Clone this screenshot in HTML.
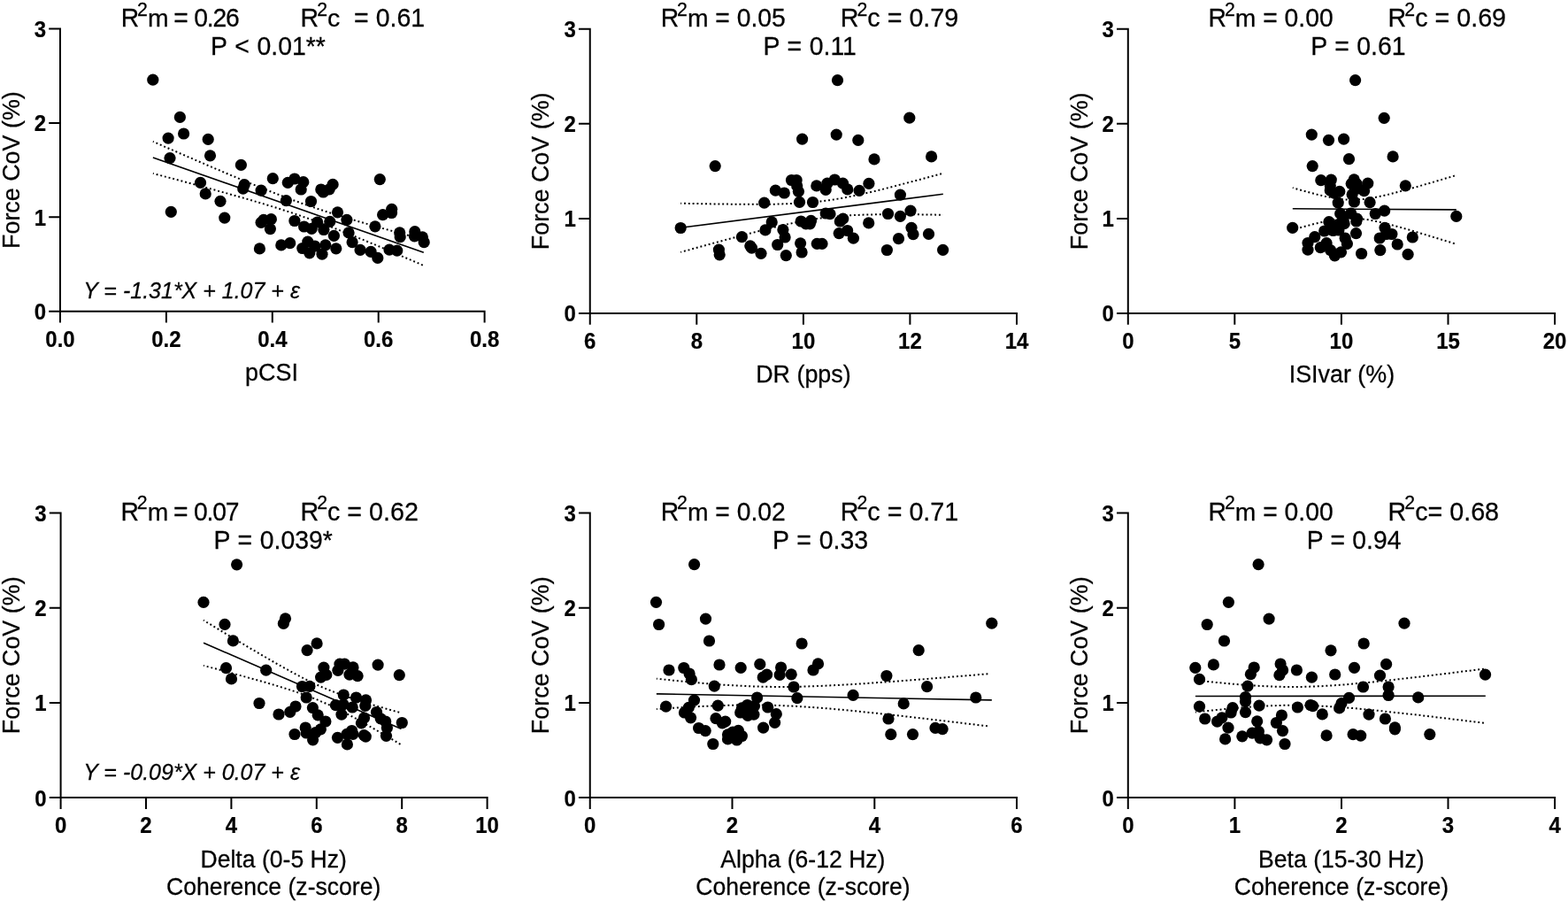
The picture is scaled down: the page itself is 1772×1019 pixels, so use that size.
<!DOCTYPE html>
<html lang="en"><head><meta charset="utf-8"><title>Force CoV regressions</title>
<style>html,body{margin:0;padding:0;background:#fff;}body{width:1772px;height:1019px;overflow:hidden;}svg{display:block;}text{font-family:"Liberation Sans", sans-serif;fill:#000;white-space:pre;}.ax{stroke:#000;stroke-width:2;fill:none;stroke-linecap:butt;}.ln{stroke:#000;stroke-width:1.6;fill:none;stroke-linecap:butt;}.ci{stroke:#000;stroke-width:2;fill:none;stroke-dasharray:1.9 2.9;stroke-dashoffset:0.95;stroke-linecap:butt;}.tl{font-size:24px;font-weight:bold;stroke:#000;stroke-width:0.2px;}.lb{stroke:#000;stroke-width:0.25px;}.tt{stroke:#000;stroke-width:0.25px;}.eq{font-size:25px;font-style:italic;stroke:#000;stroke-width:0.25px;}</style></head><body>
<svg width="1772" height="1019" viewBox="0 0 1772 1019">
<rect x="0" y="0" width="1772" height="1019" fill="#ffffff"/>
<g id="panel1">
<path class="ax" d="M68 31.5V364.5M55.2 351.7H548.6M55.2 245.3H68M55.2 138.9H68M55.2 32.5H68M187.9 351.7V364.5M307.8 351.7V364.5M427.7 351.7V364.5M547.6 351.7V364.5"/>
<text class="tl" transform="translate(52 361.1) scale(1 1.05)" text-anchor="end">0</text>
<text class="tl" transform="translate(52 254.7) scale(1 1.05)" text-anchor="end">1</text>
<text class="tl" transform="translate(52 148.3) scale(1 1.05)" text-anchor="end">2</text>
<text class="tl" transform="translate(52 41.9) scale(1 1.05)" text-anchor="end">3</text>
<text class="tl" transform="translate(68 391.7) scale(1 1.05)" text-anchor="middle">0.0</text>
<text class="tl" transform="translate(187.9 391.7) scale(1 1.05)" text-anchor="middle">0.2</text>
<text class="tl" transform="translate(307.8 391.7) scale(1 1.05)" text-anchor="middle">0.4</text>
<text class="tl" transform="translate(427.7 391.7) scale(1 1.05)" text-anchor="middle">0.6</text>
<text class="tl" transform="translate(547.6 391.7) scale(1 1.05)" text-anchor="middle">0.8</text>
<text class="lb" font-size="26.9" transform="translate(21.7 192.1) rotate(-90) scale(1 1.035)" text-anchor="middle">Force CoV (%)</text>
<text class="lb" font-size="26.9" transform="translate(307 429.8) scale(1 1.035)" text-anchor="middle">pCSI</text>
<text class="tt" font-size="28.3" transform="translate(136.64 30) scale(1 1.035)" xml:space="preserve">R</text>
<text class="tt" font-size="21.3" transform="translate(155.07 17.7) scale(1 1.035)" xml:space="preserve">2</text>
<text class="tt" font-size="28.3" x="166.91" y="30" xml:space="preserve">m</text>
<text class="tt" font-size="28.3" transform="translate(196.25 30) scale(1 1.035)" xml:space="preserve">=</text>
<text class="tt" font-size="28.3" transform="translate(219.25 30) scale(1 1.035)" letter-spacing="-1.2" xml:space="preserve">0.26</text>
<text class="tt" font-size="28.5" transform="translate(339.62 30) scale(1 1.035)" xml:space="preserve">R</text>
<text class="tt" font-size="21.3" transform="translate(358.2 17.7) scale(1 1.035)" xml:space="preserve">2</text>
<text class="tt" font-size="28.5" x="370.04" y="30" xml:space="preserve">c</text>
<text class="tt" font-size="28.5" transform="translate(384.29 30) scale(1 1.035)" xml:space="preserve">  = 0.61</text>
<text class="tt" font-size="28.4" transform="translate(237.93 61.7) scale(1 1.035)" word-spacing="0.9" xml:space="preserve">P &lt; 0.01**</text>
<text class="eq" transform="translate(94.2 336.6) scale(1 1.035)" xml:space="preserve">Y = -1.31*X + 1.07 + ε</text>
<g fill="#000">
<circle cx="172.8" cy="90.2" r="6.6"/><circle cx="203.4" cy="132.4" r="6.6"/><circle cx="207.6" cy="151" r="6.6"/><circle cx="190.1" cy="156.1" r="6.6"/><circle cx="235.2" cy="157.4" r="6.6"/><circle cx="192" cy="178.6" r="6.6"/><circle cx="237.5" cy="175.8" r="6.6"/><circle cx="272.4" cy="186.4" r="6.6"/><circle cx="226.5" cy="206.4" r="6.6"/><circle cx="232.2" cy="218.9" r="6.6"/><circle cx="249" cy="227.3" r="6.6"/><circle cx="193.3" cy="239.3" r="6.6"/><circle cx="253.8" cy="246.1" r="6.6"/><circle cx="276.2" cy="208.7" r="6.6"/><circle cx="274.7" cy="213.1" r="6.6"/><circle cx="308.3" cy="201.7" r="6.6"/><circle cx="295.1" cy="215.1" r="6.6"/><circle cx="325.3" cy="206.3" r="6.6"/><circle cx="332.9" cy="202" r="6.6"/><circle cx="342.8" cy="205.7" r="6.6"/><circle cx="340.2" cy="214" r="6.6"/><circle cx="323.4" cy="226.6" r="6.6"/><circle cx="351.5" cy="227.5" r="6.6"/><circle cx="362.8" cy="214" r="6.6"/><circle cx="365.3" cy="217" r="6.6"/><circle cx="372.2" cy="213.8" r="6.6"/><circle cx="376.1" cy="208.4" r="6.6"/><circle cx="381.5" cy="239.8" r="6.6"/><circle cx="297.9" cy="248.3" r="6.6"/><circle cx="295.1" cy="251.3" r="6.6"/><circle cx="306.4" cy="247.7" r="6.6"/><circle cx="305.4" cy="258.6" r="6.6"/><circle cx="332.9" cy="249.5" r="6.6"/><circle cx="343.6" cy="256" r="6.6"/><circle cx="352.2" cy="258.4" r="6.6"/><circle cx="358.7" cy="251" r="6.6"/><circle cx="365.9" cy="259.5" r="6.6"/><circle cx="372.8" cy="250.3" r="6.6"/><circle cx="377.4" cy="266.3" r="6.6"/><circle cx="293.4" cy="280.9" r="6.6"/><circle cx="317.8" cy="276.9" r="6.6"/><circle cx="327.7" cy="274.7" r="6.6"/><circle cx="341.8" cy="280.5" r="6.6"/><circle cx="347.8" cy="273.1" r="6.6"/><circle cx="349.8" cy="285.8" r="6.6"/><circle cx="355.9" cy="278.2" r="6.6"/><circle cx="364" cy="287.2" r="6.6"/><circle cx="367.8" cy="276.8" r="6.6"/><circle cx="379.8" cy="280.8" r="6.6"/><circle cx="429.3" cy="202.6" r="6.6"/><circle cx="391.9" cy="248.3" r="6.6"/><circle cx="394.1" cy="262.9" r="6.6"/><circle cx="398.1" cy="273.7" r="6.6"/><circle cx="423.9" cy="255.8" r="6.6"/><circle cx="432.6" cy="242.7" r="6.6"/><circle cx="442.7" cy="236.3" r="6.6"/><circle cx="442.5" cy="240.5" r="6.6"/><circle cx="451.7" cy="262.9" r="6.6"/><circle cx="452.2" cy="267.7" r="6.6"/><circle cx="468.8" cy="261.7" r="6.6"/><circle cx="468.4" cy="266.8" r="6.6"/><circle cx="477.4" cy="267.8" r="6.6"/><circle cx="479.2" cy="273.7" r="6.6"/><circle cx="440" cy="282.1" r="6.6"/><circle cx="448.7" cy="283.2" r="6.6"/><circle cx="407.1" cy="282.4" r="6.6"/><circle cx="419.1" cy="284.4" r="6.6"/><circle cx="426.8" cy="291.4" r="6.6"/>
</g>
<path class="ln" d="M172.9 177.9L478.8 285.3"/>
<path class="ci" d="M172.9 159.9L178 162.1L183.1 164.4L188.2 166.6L193.3 168.8L198.4 171L203.5 173.3L208.6 175.5L213.7 177.7L218.8 179.9L223.9 182.1L229 184.3L234.1 186.5L239.2 188.7L244.3 190.9L249.4 193L254.5 195.2L259.6 197.4L264.7 199.5L269.8 201.7L274.9 203.8L280 205.9L285.1 208L290.2 210.1L295.3 212.1L300.4 214.2L305.5 216.2L310.6 218.2L315.7 220.2L320.8 222.2L325.9 224.1L330.9 226L336 227.8L341.1 229.7L346.2 231.5L351.3 233.2L356.4 235L361.5 236.7L366.6 238.3L371.7 240L376.8 241.6L381.9 243.2L387 244.7L392.1 246.3L397.2 247.8L402.3 249.3L407.4 250.8L412.5 252.3L417.6 253.7L422.7 255.2L427.8 256.6L432.9 258.1L438 259.5L443.1 260.9L448.2 262.3L453.3 263.7L458.4 265.1L463.5 266.4L468.6 267.8L473.7 269.2L478.8 270.6"/>
<path class="ci" d="M172.9 195.9L178 197.3L183.1 198.6L188.2 200L193.3 201.3L198.4 202.7L203.5 204L208.6 205.4L213.7 206.8L218.8 208.1L223.9 209.5L229 210.9L234.1 212.3L239.2 213.7L244.3 215.1L249.4 216.5L254.5 217.9L259.6 219.3L264.7 220.7L269.8 222.2L274.9 223.6L280 225.1L285.1 226.6L290.2 228.1L295.3 229.6L300.4 231.1L305.5 232.7L310.6 234.2L315.7 235.8L320.8 237.5L325.9 239.1L330.9 240.8L336 242.5L341.1 244.3L346.2 246.1L351.3 247.9L356.4 249.7L361.5 251.6L366.6 253.5L371.7 255.4L376.8 257.4L381.9 259.4L387 261.4L392.1 263.5L397.2 265.5L402.3 267.6L407.4 269.7L412.5 271.8L417.6 273.9L422.7 276L427.8 278.2L432.9 280.3L438 282.5L443.1 284.7L448.2 286.8L453.3 289L458.4 291.2L463.5 293.4L468.6 295.6L473.7 297.8L478.8 300"/>
</g>
<g id="panel2">
<path class="ax" d="M666.75 31.7V366.8M653.95 354H1150M653.95 246.9H666.75M653.95 139.8H666.75M653.95 32.7H666.75M787.3 354V366.8M907.9 354V366.8M1028.4 354V366.8M1149 354V366.8"/>
<text class="tl" transform="translate(650.75 363.4) scale(1 1.05)" text-anchor="end">0</text>
<text class="tl" transform="translate(650.75 256.3) scale(1 1.05)" text-anchor="end">1</text>
<text class="tl" transform="translate(650.75 149.2) scale(1 1.05)" text-anchor="end">2</text>
<text class="tl" transform="translate(650.75 42.1) scale(1 1.05)" text-anchor="end">3</text>
<text class="tl" transform="translate(666.75 394) scale(1 1.05)" text-anchor="middle">6</text>
<text class="tl" transform="translate(787.3 394) scale(1 1.05)" text-anchor="middle">8</text>
<text class="tl" transform="translate(907.9 394) scale(1 1.05)" text-anchor="middle">10</text>
<text class="tl" transform="translate(1028.4 394) scale(1 1.05)" text-anchor="middle">12</text>
<text class="tl" transform="translate(1149 394) scale(1 1.05)" text-anchor="middle">14</text>
<text class="lb" font-size="26.9" transform="translate(620.45 193.35) rotate(-90) scale(1 1.035)" text-anchor="middle">Force CoV (%)</text>
<text class="lb" font-size="26.9" transform="translate(907.9 432.3) scale(1 1.035)" text-anchor="middle">DR (pps)</text>
<text class="tt" font-size="28.3" transform="translate(746.64 30) scale(1 1.035)" xml:space="preserve">R</text>
<text class="tt" font-size="21.3" transform="translate(765.07 17.7) scale(1 1.035)" xml:space="preserve">2</text>
<text class="tt" font-size="28.3" x="776.91" y="30" xml:space="preserve">m</text>
<text class="tt" font-size="28.3" transform="translate(800.49 30) scale(1 1.035)" xml:space="preserve"> = 0.05</text>
<text class="tt" font-size="28.7" transform="translate(949.8 30) scale(1 1.035)" xml:space="preserve">R</text>
<text class="tt" font-size="21.3" transform="translate(968.53 17.7) scale(1 1.035)" xml:space="preserve">2</text>
<text class="tt" font-size="28.7" x="980.37" y="30" xml:space="preserve">c</text>
<text class="tt" font-size="28.7" transform="translate(994.72 30) scale(1 1.035)" xml:space="preserve"> = 0.79</text>
<text class="tt" font-size="28.4" transform="translate(862.53 62.1) scale(1 1.035)" word-spacing="0.7" xml:space="preserve">P = 0.11</text>
<g fill="#000">
<circle cx="946.5" cy="90.7" r="6.6"/><circle cx="1027.8" cy="133.2" r="6.6"/><circle cx="945.2" cy="152.1" r="6.6"/><circle cx="906.6" cy="157.1" r="6.6"/><circle cx="969.8" cy="158.4" r="6.6"/><circle cx="988" cy="179.9" r="6.6"/><circle cx="1052.6" cy="176.9" r="6.6"/><circle cx="808.2" cy="187.6" r="6.6"/><circle cx="769.2" cy="257.5" r="6.6"/><circle cx="863.7" cy="229.1" r="6.6"/><circle cx="876.4" cy="215.2" r="6.6"/><circle cx="886.3" cy="218" r="6.6"/><circle cx="894.5" cy="203.5" r="6.6"/><circle cx="900.1" cy="203.5" r="6.6"/><circle cx="900.7" cy="209.9" r="6.6"/><circle cx="902.4" cy="216.3" r="6.6"/><circle cx="903.5" cy="228.3" r="6.6"/><circle cx="918.5" cy="228.5" r="6.6"/><circle cx="922.8" cy="209.9" r="6.6"/><circle cx="933.2" cy="214.4" r="6.6"/><circle cx="934.9" cy="207.1" r="6.6"/><circle cx="943.3" cy="203" r="6.6"/><circle cx="952.5" cy="207.1" r="6.6"/><circle cx="957.8" cy="213.9" r="6.6"/><circle cx="971.1" cy="215.3" r="6.6"/><circle cx="981.9" cy="207.4" r="6.6"/><circle cx="1017.4" cy="220.1" r="6.6"/><circle cx="872.2" cy="250.9" r="6.6"/><circle cx="864.9" cy="259.9" r="6.6"/><circle cx="884.9" cy="259.6" r="6.6"/><circle cx="887.1" cy="268" r="6.6"/><circle cx="878.7" cy="276.5" r="6.6"/><circle cx="838.4" cy="267.7" r="6.6"/><circle cx="847.8" cy="277.8" r="6.6"/><circle cx="849.5" cy="280.2" r="6.6"/><circle cx="860" cy="286.3" r="6.6"/><circle cx="812.4" cy="282.1" r="6.6"/><circle cx="813.2" cy="287.8" r="6.6"/><circle cx="888.3" cy="288.6" r="6.6"/><circle cx="904.6" cy="274.8" r="6.6"/><circle cx="906.1" cy="285" r="6.6"/><circle cx="923.3" cy="275.3" r="6.6"/><circle cx="929" cy="275.4" r="6.6"/><circle cx="905.2" cy="250" r="6.6"/><circle cx="910.8" cy="252.8" r="6.6"/><circle cx="916.5" cy="249.4" r="6.6"/><circle cx="915.3" cy="252.8" r="6.6"/><circle cx="933.2" cy="241" r="6.6"/><circle cx="938" cy="241.7" r="6.6"/><circle cx="952.7" cy="247.2" r="6.6"/><circle cx="949.3" cy="250" r="6.6"/><circle cx="948.2" cy="263.6" r="6.6"/><circle cx="957.6" cy="260.5" r="6.6"/><circle cx="964.4" cy="269.2" r="6.6"/><circle cx="981.7" cy="251.9" r="6.6"/><circle cx="1003.5" cy="241.5" r="6.6"/><circle cx="1017.4" cy="244.3" r="6.6"/><circle cx="1029" cy="238.1" r="6.6"/><circle cx="1030" cy="257.3" r="6.6"/><circle cx="1032" cy="264.7" r="6.6"/><circle cx="1049.5" cy="264.4" r="6.6"/><circle cx="1015.5" cy="269.7" r="6.6"/><circle cx="1002.4" cy="282.5" r="6.6"/><circle cx="1065.6" cy="282.3" r="6.6"/>
</g>
<path class="ln" d="M769.2 257.3L1065.8 219.2"/>
<path class="ci" d="M769.2 229.7L774.1 229.8L779.1 229.9L784 230L789 230.1L793.9 230.2L798.9 230.3L803.8 230.4L808.7 230.4L813.7 230.5L818.6 230.6L823.6 230.6L828.5 230.7L833.5 230.7L838.4 230.8L843.4 230.8L848.3 230.8L853.2 230.8L858.2 230.8L863.1 230.8L868.1 230.7L873 230.7L878 230.6L882.9 230.4L887.8 230.3L892.8 230.1L897.7 229.9L902.7 229.6L907.6 229.3L912.6 228.9L917.5 228.5L922.4 228L927.4 227.5L932.3 226.8L937.3 226.2L942.2 225.4L947.2 224.6L952.1 223.7L957 222.8L962 221.8L966.9 220.8L971.9 219.7L976.8 218.6L981.8 217.5L986.7 216.4L991.6 215.2L996.6 214L1001.5 212.7L1006.5 211.5L1011.4 210.2L1016.4 208.9L1021.3 207.6L1026.3 206.3L1031.2 205L1036.1 203.7L1041.1 202.4L1046 201.1L1051 199.7L1055.9 198.4L1060.9 197L1065.8 195.7"/>
<path class="ci" d="M769.2 284.9L774.1 283.5L779.1 282.2L784 280.8L789 279.4L793.9 278.1L798.9 276.7L803.8 275.3L808.7 274L813.7 272.7L818.6 271.3L823.6 270L828.5 268.7L833.5 267.3L838.4 266L843.4 264.7L848.3 263.5L853.2 262.2L858.2 260.9L863.1 259.7L868.1 258.5L873 257.3L878 256.1L882.9 254.9L887.8 253.8L892.8 252.7L897.7 251.7L902.7 250.7L907.6 249.7L912.6 248.8L917.5 248L922.4 247.2L927.4 246.5L932.3 245.8L937.3 245.3L942.2 244.7L947.2 244.3L952.1 243.9L957 243.5L962 243.2L966.9 243L971.9 242.8L976.8 242.6L981.8 242.5L986.7 242.4L991.6 242.3L996.6 242.2L1001.5 242.2L1006.5 242.2L1011.4 242.2L1016.4 242.2L1021.3 242.2L1026.3 242.2L1031.2 242.3L1036.1 242.3L1041.1 242.4L1046 242.4L1051 242.5L1055.9 242.6L1060.9 242.7L1065.8 242.7"/>
</g>
<g id="panel3">
<path class="ax" d="M1274.8 31.7V366.8M1262 354H1758.1M1262 246.9H1274.8M1262 139.8H1274.8M1262 32.7H1274.8M1395.3 354V366.8M1515.9 354V366.8M1636.5 354V366.8M1757.1 354V366.8"/>
<text class="tl" transform="translate(1258.8 363.4) scale(1 1.05)" text-anchor="end">0</text>
<text class="tl" transform="translate(1258.8 256.3) scale(1 1.05)" text-anchor="end">1</text>
<text class="tl" transform="translate(1258.8 149.2) scale(1 1.05)" text-anchor="end">2</text>
<text class="tl" transform="translate(1258.8 42.1) scale(1 1.05)" text-anchor="end">3</text>
<text class="tl" transform="translate(1274.8 394) scale(1 1.05)" text-anchor="middle">0</text>
<text class="tl" transform="translate(1395.3 394) scale(1 1.05)" text-anchor="middle">5</text>
<text class="tl" transform="translate(1515.9 394) scale(1 1.05)" text-anchor="middle">10</text>
<text class="tl" transform="translate(1636.5 394) scale(1 1.05)" text-anchor="middle">15</text>
<text class="tl" transform="translate(1757.1 394) scale(1 1.05)" text-anchor="middle">20</text>
<text class="lb" font-size="26.9" transform="translate(1228.5 193.35) rotate(-90) scale(1 1.035)" text-anchor="middle">Force CoV (%)</text>
<text class="lb" font-size="26.9" transform="translate(1516.4 432.3) scale(1 1.035)" text-anchor="middle">ISIvar (%)</text>
<text class="tt" font-size="28.3" transform="translate(1365.54 30) scale(1 1.035)" xml:space="preserve">R</text>
<text class="tt" font-size="21.3" transform="translate(1383.97 17.7) scale(1 1.035)" xml:space="preserve">2</text>
<text class="tt" font-size="28.3" x="1395.81" y="30" xml:space="preserve">m</text>
<text class="tt" font-size="28.3" transform="translate(1419.39 30) scale(1 1.035)" xml:space="preserve"> = 0.00</text>
<text class="tt" font-size="28.7" transform="translate(1568.6 30) scale(1 1.035)" xml:space="preserve">R</text>
<text class="tt" font-size="21.3" transform="translate(1587.33 17.7) scale(1 1.035)" xml:space="preserve">2</text>
<text class="tt" font-size="28.7" x="1599.17" y="30" xml:space="preserve">c</text>
<text class="tt" font-size="28.7" transform="translate(1613.52 30) scale(1 1.035)" xml:space="preserve"> = 0.69</text>
<text class="tt" font-size="28.4" transform="translate(1481.13 62.1) scale(1 1.035)" word-spacing="0.7" xml:space="preserve">P = 0.61</text>
<g fill="#000">
<circle cx="1531.6" cy="90.6" r="6.6"/><circle cx="1564.2" cy="133.3" r="6.6"/><circle cx="1482.3" cy="152.1" r="6.6"/><circle cx="1501.5" cy="158.3" r="6.6"/><circle cx="1518.6" cy="157.1" r="6.6"/><circle cx="1524.5" cy="179.7" r="6.6"/><circle cx="1574.1" cy="176.9" r="6.6"/><circle cx="1483.2" cy="187.6" r="6.6"/><circle cx="1492.8" cy="203.7" r="6.6"/><circle cx="1504.3" cy="203.1" r="6.6"/><circle cx="1530.2" cy="202.9" r="6.6"/><circle cx="1545.8" cy="207.1" r="6.6"/><circle cx="1588.3" cy="209.8" r="6.6"/><circle cx="1503.3" cy="209.8" r="6.6"/><circle cx="1503.3" cy="215.2" r="6.6"/><circle cx="1507.8" cy="218" r="6.6"/><circle cx="1513.8" cy="216.4" r="6.6"/><circle cx="1512.2" cy="229.1" r="6.6"/><circle cx="1527.2" cy="207.6" r="6.6"/><circle cx="1533.1" cy="207.6" r="6.6"/><circle cx="1534.9" cy="213" r="6.6"/><circle cx="1541.6" cy="215.7" r="6.6"/><circle cx="1528.1" cy="219.8" r="6.6"/><circle cx="1530.4" cy="228" r="6.6"/><circle cx="1548.1" cy="228.7" r="6.6"/><circle cx="1564.6" cy="238.2" r="6.6"/><circle cx="1554.3" cy="241.5" r="6.6"/><circle cx="1460.7" cy="257.4" r="6.6"/><circle cx="1514.7" cy="241.4" r="6.6"/><circle cx="1526.7" cy="241" r="6.6"/><circle cx="1533.5" cy="247.1" r="6.6"/><circle cx="1532.8" cy="250" r="6.6"/><circle cx="1501.9" cy="250.7" r="6.6"/><circle cx="1518.1" cy="248.1" r="6.6"/><circle cx="1519.1" cy="252.7" r="6.6"/><circle cx="1512.4" cy="253.7" r="6.6"/><circle cx="1506.6" cy="256.4" r="6.6"/><circle cx="1512.9" cy="260" r="6.6"/><circle cx="1506.6" cy="260.5" r="6.6"/><circle cx="1496.7" cy="261" r="6.6"/><circle cx="1532.5" cy="263.6" r="6.6"/><circle cx="1485.8" cy="267.6" r="6.6"/><circle cx="1478" cy="274.5" r="6.6"/><circle cx="1499.1" cy="274.7" r="6.6"/><circle cx="1520.2" cy="269.2" r="6.6"/><circle cx="1522.4" cy="275.4" r="6.6"/><circle cx="1565" cy="257.3" r="6.6"/><circle cx="1566.6" cy="264.5" r="6.6"/><circle cx="1572.9" cy="264.5" r="6.6"/><circle cx="1559.2" cy="269" r="6.6"/><circle cx="1596.3" cy="268" r="6.6"/><circle cx="1579.2" cy="276" r="6.6"/><circle cx="1478" cy="282.2" r="6.6"/><circle cx="1492.3" cy="279.7" r="6.6"/><circle cx="1503.6" cy="282.6" r="6.6"/><circle cx="1515.5" cy="284.8" r="6.6"/><circle cx="1508.4" cy="288.8" r="6.6"/><circle cx="1538.6" cy="286.5" r="6.6"/><circle cx="1559.8" cy="282.6" r="6.6"/><circle cx="1591.1" cy="287.3" r="6.6"/><circle cx="1645.8" cy="244.4" r="6.6"/>
</g>
<path class="ln" d="M1460.8 235.8L1645.8 236.9"/>
<path class="ci" d="M1460.8 212.1L1463.8 213L1466.9 213.9L1470 214.7L1473 215.6L1476 216.4L1479.1 217.2L1482.1 218.1L1485.2 218.8L1488.2 219.6L1491.3 220.4L1494.3 221.1L1497.4 221.8L1500.5 222.4L1503.5 223L1506.5 223.6L1509.6 224.1L1512.6 224.6L1515.7 225L1518.8 225.3L1521.8 225.5L1524.8 225.6L1527.9 225.7L1531 225.7L1534 225.5L1537 225.3L1540.1 225.1L1543.1 224.7L1546.2 224.3L1549.2 223.8L1552.3 223.3L1555.3 222.7L1558.4 222.1L1561.5 221.4L1564.5 220.7L1567.5 220L1570.6 219.3L1573.6 218.5L1576.7 217.7L1579.8 216.9L1582.8 216.1L1585.8 215.3L1588.9 214.5L1592 213.6L1595 212.8L1598 211.9L1601.1 211.1L1604.1 210.2L1607.2 209.3L1610.2 208.4L1613.3 207.6L1616.3 206.7L1619.4 205.8L1622.5 204.9L1625.5 204L1628.5 203.1L1631.6 202.2L1634.6 201.3L1637.7 200.4L1640.8 199.5L1643.8 198.5"/>
<path class="ci" d="M1460.8 259.5L1463.8 258.7L1466.9 257.8L1470 257L1473 256.2L1476 255.4L1479.1 254.6L1482.1 253.8L1485.2 253L1488.2 252.3L1491.3 251.6L1494.3 250.9L1497.4 250.3L1500.5 249.6L1503.5 249.1L1506.5 248.5L1509.6 248.1L1512.6 247.6L1515.7 247.3L1518.8 247L1521.8 246.8L1524.8 246.7L1527.9 246.7L1531 246.8L1534 246.9L1537 247.2L1540.1 247.5L1543.1 247.9L1546.2 248.3L1549.2 248.9L1552.3 249.4L1555.3 250.1L1558.4 250.7L1561.5 251.4L1564.5 252.1L1567.5 252.9L1570.6 253.7L1573.6 254.4L1576.7 255.3L1579.8 256.1L1582.8 256.9L1585.8 257.8L1588.9 258.7L1592 259.5L1595 260.4L1598 261.3L1601.1 262.2L1604.1 263.1L1607.2 264L1610.2 264.9L1613.3 265.9L1616.3 266.8L1619.4 267.7L1622.5 268.6L1625.5 269.6L1628.5 270.5L1631.6 271.4L1634.6 272.4L1637.7 273.3L1640.8 274.3L1643.8 275.2"/>
</g>
<g id="panel4">
<path class="ax" d="M68.6 578.5V913.9M55.8 901.1H551.6M55.8 793.9H68.6M55.8 686.7H68.6M55.8 579.5H68.6M165 901.1V913.9M261.4 901.1V913.9M357.8 901.1V913.9M454.2 901.1V913.9M550.6 901.1V913.9"/>
<text class="tl" transform="translate(52.6 910.5) scale(1 1.05)" text-anchor="end">0</text>
<text class="tl" transform="translate(52.6 803.3) scale(1 1.05)" text-anchor="end">1</text>
<text class="tl" transform="translate(52.6 696.1) scale(1 1.05)" text-anchor="end">2</text>
<text class="tl" transform="translate(52.6 588.9) scale(1 1.05)" text-anchor="end">3</text>
<text class="tl" transform="translate(68.6 941.1) scale(1 1.05)" text-anchor="middle">0</text>
<text class="tl" transform="translate(165 941.1) scale(1 1.05)" text-anchor="middle">2</text>
<text class="tl" transform="translate(261.4 941.1) scale(1 1.05)" text-anchor="middle">4</text>
<text class="tl" transform="translate(357.8 941.1) scale(1 1.05)" text-anchor="middle">6</text>
<text class="tl" transform="translate(454.2 941.1) scale(1 1.05)" text-anchor="middle">8</text>
<text class="tl" transform="translate(550.6 941.1) scale(1 1.05)" text-anchor="middle">10</text>
<text class="lb" font-size="26.9" transform="translate(22.3 740.3) rotate(-90) scale(1 1.035)" text-anchor="middle">Force CoV (%)</text>
<text class="lb" font-size="26.6" transform="translate(309.2 980.3) scale(1 1.035)" text-anchor="middle">Delta (0-5 Hz)</text>
<text class="lb" font-size="26.6" transform="translate(309.2 1010.6) scale(1 1.035)" text-anchor="middle">Coherence (z-score)</text>
<text class="tt" font-size="28.3" transform="translate(136.44 587.6) scale(1 1.035)" xml:space="preserve">R</text>
<text class="tt" font-size="21.3" transform="translate(154.87 575.3) scale(1 1.035)" xml:space="preserve">2</text>
<text class="tt" font-size="28.3" x="166.71" y="587.6" xml:space="preserve">m</text>
<text class="tt" font-size="28.3" transform="translate(196.05 587.6) scale(1 1.035)" xml:space="preserve">=</text>
<text class="tt" font-size="28.3" transform="translate(219.05 587.6) scale(1 1.035)" letter-spacing="-1.2" xml:space="preserve">0.07</text>
<text class="tt" font-size="28.7" transform="translate(339.4 587.6) scale(1 1.035)" xml:space="preserve">R</text>
<text class="tt" font-size="21.3" transform="translate(358.13 575.3) scale(1 1.035)" xml:space="preserve">2</text>
<text class="tt" font-size="28.7" x="369.97" y="587.6" xml:space="preserve">c</text>
<text class="tt" font-size="28.7" transform="translate(384.32 587.6) scale(1 1.035)" xml:space="preserve"> = 0.62</text>
<text class="tt" font-size="28.4" transform="translate(241.53 619.7) scale(1 1.035)" word-spacing="0.7" xml:space="preserve">P = 0.039*</text>
<text class="eq" transform="translate(94.2 880.6) scale(1 1.035)" xml:space="preserve">Y = -0.09*X + 0.07 + ε</text>
<g fill="#000">
<circle cx="267.6" cy="637.8" r="6.6"/><circle cx="230" cy="680.4" r="6.6"/><circle cx="254" cy="705.4" r="6.6"/><circle cx="322.5" cy="698.8" r="6.6"/><circle cx="320.4" cy="704.4" r="6.6"/><circle cx="263.4" cy="723.9" r="6.6"/><circle cx="358.1" cy="726.9" r="6.6"/><circle cx="347.1" cy="734.7" r="6.6"/><circle cx="255.5" cy="754.7" r="6.6"/><circle cx="300.7" cy="757.2" r="6.6"/><circle cx="261.5" cy="766.9" r="6.6"/><circle cx="365.9" cy="754.1" r="6.6"/><circle cx="384" cy="750.2" r="6.6"/><circle cx="389.4" cy="750.2" r="6.6"/><circle cx="381.9" cy="757.3" r="6.6"/><circle cx="399" cy="753.9" r="6.6"/><circle cx="395" cy="762.1" r="6.6"/><circle cx="404.1" cy="763.7" r="6.6"/><circle cx="427.1" cy="751.1" r="6.6"/><circle cx="451.3" cy="762.6" r="6.6"/><circle cx="362.6" cy="765.1" r="6.6"/><circle cx="368.8" cy="762.4" r="6.6"/><circle cx="341.5" cy="775.5" r="6.6"/><circle cx="349.9" cy="775.4" r="6.6"/><circle cx="346.2" cy="788" r="6.6"/><circle cx="388.3" cy="785" r="6.6"/><circle cx="402.5" cy="788" r="6.6"/><circle cx="413.5" cy="790.9" r="6.6"/><circle cx="412.8" cy="797.4" r="6.6"/><circle cx="379.4" cy="796.7" r="6.6"/><circle cx="388" cy="795.8" r="6.6"/><circle cx="398.2" cy="799" r="6.6"/><circle cx="386" cy="807.2" r="6.6"/><circle cx="334" cy="798" r="6.6"/><circle cx="327.8" cy="804.3" r="6.6"/><circle cx="315" cy="807" r="6.6"/><circle cx="353.4" cy="799.6" r="6.6"/><circle cx="359.2" cy="807.8" r="6.6"/><circle cx="367.9" cy="815" r="6.6"/><circle cx="425.5" cy="804.5" r="6.6"/><circle cx="430.2" cy="811.8" r="6.6"/><circle cx="435.7" cy="815" r="6.6"/><circle cx="437.4" cy="822.3" r="6.6"/><circle cx="436.5" cy="831.3" r="6.6"/><circle cx="454.3" cy="816.5" r="6.6"/><circle cx="411.5" cy="811" r="6.6"/><circle cx="408.4" cy="816.8" r="6.6"/><circle cx="345.2" cy="822" r="6.6"/><circle cx="362.4" cy="823.8" r="6.6"/><circle cx="333" cy="829.5" r="6.6"/><circle cx="346.2" cy="828" r="6.6"/><circle cx="353.6" cy="835.8" r="6.6"/><circle cx="356.7" cy="827.5" r="6.6"/><circle cx="397.6" cy="825.5" r="6.6"/><circle cx="411.4" cy="830.7" r="6.6"/><circle cx="413.3" cy="832.1" r="6.6"/><circle cx="398.9" cy="829.3" r="6.6"/><circle cx="381.5" cy="833.3" r="6.6"/><circle cx="392" cy="829.3" r="6.6"/><circle cx="392.4" cy="840.9" r="6.6"/><circle cx="293" cy="794.5" r="6.6"/>
</g>
<path class="ln" d="M230 726.3L453.5 823.4"/>
<path class="ci" d="M230 700.7L233.7 703L237.4 705.2L241.2 707.5L244.9 709.7L248.6 711.9L252.3 714.2L256.1 716.4L259.8 718.6L263.5 720.9L267.2 723.1L271 725.3L274.7 727.5L278.4 729.8L282.1 732L285.9 734.2L289.6 736.3L293.3 738.5L297.1 740.7L300.8 742.9L304.5 745L308.2 747.2L311.9 749.3L315.7 751.4L319.4 753.5L323.1 755.6L326.9 757.6L330.6 759.7L334.3 761.7L338 763.6L341.8 765.6L345.5 767.5L349.2 769.3L352.9 771.1L356.6 772.9L360.4 774.6L364.1 776.3L367.8 777.9L371.6 779.4L375.3 780.9L379 782.3L382.7 783.7L386.4 785.1L390.2 786.4L393.9 787.7L397.6 788.9L401.4 790.1L405.1 791.3L408.8 792.5L412.5 793.7L416.2 794.8L420 795.9L423.7 797L427.4 798.1L431.1 799.1L434.9 800.2L438.6 801.3L442.3 802.3L446.1 803.4L449.8 804.4L453.5 805.4"/>
<path class="ci" d="M230 751.9L233.7 752.9L237.4 753.9L241.2 754.9L244.9 755.8L248.6 756.8L252.3 757.8L256.1 758.8L259.8 759.8L263.5 760.9L267.2 761.9L271 762.9L274.7 763.9L278.4 764.9L282.1 766L285.9 767L289.6 768L293.3 769.1L297.1 770.1L300.8 771.2L304.5 772.3L308.2 773.4L311.9 774.5L315.7 775.6L319.4 776.8L323.1 777.9L326.9 779.1L330.6 780.3L334.3 781.5L338 782.8L341.8 784.1L345.5 785.5L349.2 786.8L352.9 788.3L356.6 789.7L360.4 791.3L364.1 792.9L367.8 794.5L371.6 796.2L375.3 797.9L379 799.7L382.7 801.6L386.4 803.4L390.2 805.4L393.9 807.3L397.6 809.3L401.4 811.3L405.1 813.4L408.8 815.5L412.5 817.5L416.2 819.7L420 821.8L423.7 823.9L427.4 826.1L431.1 828.2L434.9 830.4L438.6 832.6L442.3 834.8L446.1 837L449.8 839.2L453.5 841.4"/>
</g>
<g id="panel5">
<path class="ax" d="M666.75 578.5V913.9M653.95 901.1H1150M653.95 793.9H666.75M653.95 686.7H666.75M653.95 579.5H666.75M827.5 901.1V913.9M988.3 901.1V913.9M1149 901.1V913.9"/>
<text class="tl" transform="translate(650.75 910.5) scale(1 1.05)" text-anchor="end">0</text>
<text class="tl" transform="translate(650.75 803.3) scale(1 1.05)" text-anchor="end">1</text>
<text class="tl" transform="translate(650.75 696.1) scale(1 1.05)" text-anchor="end">2</text>
<text class="tl" transform="translate(650.75 588.9) scale(1 1.05)" text-anchor="end">3</text>
<text class="tl" transform="translate(666.75 941.1) scale(1 1.05)" text-anchor="middle">0</text>
<text class="tl" transform="translate(827.5 941.1) scale(1 1.05)" text-anchor="middle">2</text>
<text class="tl" transform="translate(988.3 941.1) scale(1 1.05)" text-anchor="middle">4</text>
<text class="tl" transform="translate(1149 941.1) scale(1 1.05)" text-anchor="middle">6</text>
<text class="lb" font-size="26.9" transform="translate(620.45 740.3) rotate(-90) scale(1 1.035)" text-anchor="middle">Force CoV (%)</text>
<text class="lb" font-size="26.6" transform="translate(907.4 980.3) scale(1 1.035)" text-anchor="middle">Alpha (6-12 Hz)</text>
<text class="lb" font-size="26.6" transform="translate(907.4 1010.6) scale(1 1.035)" text-anchor="middle">Coherence (z-score)</text>
<text class="tt" font-size="28.3" transform="translate(746.64 587.6) scale(1 1.035)" xml:space="preserve">R</text>
<text class="tt" font-size="21.3" transform="translate(765.07 575.3) scale(1 1.035)" xml:space="preserve">2</text>
<text class="tt" font-size="28.3" x="776.91" y="587.6" xml:space="preserve">m</text>
<text class="tt" font-size="28.3" transform="translate(800.49 587.6) scale(1 1.035)" xml:space="preserve"> = 0.02</text>
<text class="tt" font-size="28.7" transform="translate(949.8 587.6) scale(1 1.035)" xml:space="preserve">R</text>
<text class="tt" font-size="21.3" transform="translate(968.53 575.3) scale(1 1.035)" xml:space="preserve">2</text>
<text class="tt" font-size="28.7" x="980.37" y="587.6" xml:space="preserve">c</text>
<text class="tt" font-size="28.7" transform="translate(994.72 587.6) scale(1 1.035)" xml:space="preserve"> = 0.71</text>
<text class="tt" font-size="28.5" transform="translate(872.92 619.7) scale(1 1.035)" word-spacing="0.9" xml:space="preserve">P = 0.33</text>
<g fill="#000">
<circle cx="784.6" cy="637.7" r="6.6"/><circle cx="741.5" cy="680.3" r="6.6"/><circle cx="744.6" cy="705.5" r="6.6"/><circle cx="797.5" cy="699.1" r="6.6"/><circle cx="801.5" cy="724" r="6.6"/><circle cx="906.1" cy="727" r="6.6"/><circle cx="813" cy="751" r="6.6"/><circle cx="858.8" cy="750.4" r="6.6"/><circle cx="924.5" cy="749.9" r="6.6"/><circle cx="837.2" cy="754.4" r="6.6"/><circle cx="882.6" cy="754" r="6.6"/><circle cx="756" cy="757" r="6.6"/><circle cx="772.8" cy="754.5" r="6.6"/><circle cx="779.1" cy="761" r="6.6"/><circle cx="781.4" cy="767.7" r="6.6"/><circle cx="881.2" cy="762.4" r="6.6"/><circle cx="866.6" cy="762.1" r="6.6"/><circle cx="862.3" cy="765.2" r="6.6"/><circle cx="894.2" cy="761.9" r="6.6"/><circle cx="919" cy="757" r="6.6"/><circle cx="807.3" cy="775.1" r="6.6"/><circle cx="897" cy="776" r="6.6"/><circle cx="900.9" cy="788.7" r="6.6"/><circle cx="855.6" cy="788" r="6.6"/><circle cx="784.5" cy="791.1" r="6.6"/><circle cx="752.6" cy="798.2" r="6.6"/><circle cx="811.3" cy="797.1" r="6.6"/><circle cx="778.3" cy="799.3" r="6.6"/><circle cx="773.5" cy="805" r="6.6"/><circle cx="780.6" cy="810.8" r="6.6"/><circle cx="867.7" cy="799" r="6.6"/><circle cx="877.3" cy="806.7" r="6.6"/><circle cx="875.6" cy="816.3" r="6.6"/><circle cx="862.6" cy="822.1" r="6.6"/><circle cx="809" cy="811.7" r="6.6"/><circle cx="816.3" cy="816.8" r="6.6"/><circle cx="819.7" cy="815.1" r="6.6"/><circle cx="789.6" cy="822.5" r="6.6"/><circle cx="797.2" cy="825.6" r="6.6"/><circle cx="805.8" cy="840.5" r="6.6"/><circle cx="844.6" cy="796.5" r="6.6"/><circle cx="852.5" cy="797.6" r="6.6"/><circle cx="838.4" cy="799.9" r="6.6"/><circle cx="836.7" cy="805" r="6.6"/><circle cx="845.1" cy="808.4" r="6.6"/><circle cx="851.9" cy="807.2" r="6.6"/><circle cx="846.3" cy="802.7" r="6.6"/><circle cx="834.4" cy="825.3" r="6.6"/><circle cx="828.2" cy="827" r="6.6"/><circle cx="822.5" cy="829.8" r="6.6"/><circle cx="838.4" cy="831.5" r="6.6"/><circle cx="822.5" cy="834.9" r="6.6"/><circle cx="832.7" cy="836" r="6.6"/><circle cx="1120.8" cy="704.2" r="6.6"/><circle cx="1038.2" cy="734.7" r="6.6"/><circle cx="1001.9" cy="763.5" r="6.6"/><circle cx="1047.6" cy="775.7" r="6.6"/><circle cx="964.1" cy="785.4" r="6.6"/><circle cx="1102.8" cy="788" r="6.6"/><circle cx="1021.2" cy="794.9" r="6.6"/><circle cx="1004" cy="812" r="6.6"/><circle cx="1057" cy="822.4" r="6.6"/><circle cx="1065.1" cy="823.6" r="6.6"/><circle cx="1006.8" cy="829.7" r="6.6"/><circle cx="1031.5" cy="829.6" r="6.6"/>
</g>
<path class="ln" d="M741.9 783.9L1120.8 790.9"/>
<path class="ci" d="M741.9 766.7L748.2 767.4L754.4 768L760.7 768.7L766.9 769.3L773.2 769.9L779.5 770.5L785.7 771.1L792 771.6L798.2 772.2L804.5 772.7L810.8 773.1L817 773.6L823.3 774L829.5 774.4L835.8 774.7L842.1 775L848.3 775.3L854.6 775.5L860.8 775.7L867.1 775.8L873.4 775.9L879.6 775.9L885.9 775.9L892.1 775.9L898.4 775.8L904.7 775.7L910.9 775.5L917.2 775.3L923.4 775.1L929.7 774.8L936 774.5L942.2 774.2L948.5 773.9L954.7 773.5L961 773.2L967.3 772.8L973.5 772.4L979.8 772L986 771.5L992.3 771.1L998.6 770.7L1004.8 770.2L1011.1 769.8L1017.3 769.3L1023.6 768.8L1029.9 768.3L1036.1 767.9L1042.4 767.4L1048.6 766.9L1054.9 766.4L1061.2 765.9L1067.4 765.4L1073.7 764.8L1079.9 764.3L1086.2 763.8L1092.5 763.3L1098.7 762.8L1105 762.2L1111.2 761.7L1117.5 761.2"/>
<path class="ci" d="M741.9 801.1L748.2 800.6L754.4 800.2L760.7 799.8L766.9 799.4L773.2 799L779.5 798.7L785.7 798.3L792 798L798.2 797.7L804.5 797.5L810.8 797.2L817 797L823.3 796.8L829.5 796.7L835.8 796.5L842.1 796.5L848.3 796.4L854.6 796.5L860.8 796.5L867.1 796.6L873.4 796.8L879.6 797L885.9 797.2L892.1 797.5L898.4 797.8L904.7 798.2L910.9 798.6L917.2 799L923.4 799.4L929.7 799.9L936 800.5L942.2 801L948.5 801.6L954.7 802.1L961 802.7L967.3 803.3L973.5 804L979.8 804.6L986 805.3L992.3 805.9L998.6 806.6L1004.8 807.3L1011.1 808L1017.3 808.7L1023.6 809.4L1029.9 810.1L1036.1 810.8L1042.4 811.5L1048.6 812.3L1054.9 813L1061.2 813.7L1067.4 814.5L1073.7 815.2L1079.9 816L1086.2 816.7L1092.5 817.5L1098.7 818.2L1105 819L1111.2 819.7L1117.5 820.5"/>
</g>
<g id="panel6">
<path class="ax" d="M1274.8 578.5V913.9M1262 901.1H1758.1M1262 793.9H1274.8M1262 686.7H1274.8M1262 579.5H1274.8M1395.4 901.1V913.9M1516 901.1V913.9M1636.5 901.1V913.9M1757.1 901.1V913.9"/>
<text class="tl" transform="translate(1258.8 910.5) scale(1 1.05)" text-anchor="end">0</text>
<text class="tl" transform="translate(1258.8 803.3) scale(1 1.05)" text-anchor="end">1</text>
<text class="tl" transform="translate(1258.8 696.1) scale(1 1.05)" text-anchor="end">2</text>
<text class="tl" transform="translate(1258.8 588.9) scale(1 1.05)" text-anchor="end">3</text>
<text class="tl" transform="translate(1274.8 941.1) scale(1 1.05)" text-anchor="middle">0</text>
<text class="tl" transform="translate(1395.4 941.1) scale(1 1.05)" text-anchor="middle">1</text>
<text class="tl" transform="translate(1516 941.1) scale(1 1.05)" text-anchor="middle">2</text>
<text class="tl" transform="translate(1636.5 941.1) scale(1 1.05)" text-anchor="middle">3</text>
<text class="tl" transform="translate(1757.1 941.1) scale(1 1.05)" text-anchor="middle">4</text>
<text class="lb" font-size="26.9" transform="translate(1228.5 740.3) rotate(-90) scale(1 1.035)" text-anchor="middle">Force CoV (%)</text>
<text class="lb" font-size="26.6" transform="translate(1515.9 980.3) scale(1 1.035)" text-anchor="middle">Beta (15-30 Hz)</text>
<text class="lb" font-size="26.6" transform="translate(1515.9 1010.6) scale(1 1.035)" text-anchor="middle">Coherence (z-score)</text>
<text class="tt" font-size="28.3" transform="translate(1365.54 587.6) scale(1 1.035)" xml:space="preserve">R</text>
<text class="tt" font-size="21.3" transform="translate(1383.97 575.3) scale(1 1.035)" xml:space="preserve">2</text>
<text class="tt" font-size="28.3" x="1395.81" y="587.6" xml:space="preserve">m</text>
<text class="tt" font-size="28.3" transform="translate(1419.39 587.6) scale(1 1.035)" xml:space="preserve"> = 0.00</text>
<text class="tt" font-size="28.7" transform="translate(1568.6 587.6) scale(1 1.035)" xml:space="preserve">R</text>
<text class="tt" font-size="21.3" transform="translate(1587.33 575.3) scale(1 1.035)" xml:space="preserve">2</text>
<text class="tt" font-size="28.7" x="1599.17" y="587.6" xml:space="preserve">c</text>
<text class="tt" font-size="28.7" transform="translate(1613.52 587.6) scale(1 1.035)" xml:space="preserve">= 0.68</text>
<text class="tt" font-size="28.3" transform="translate(1476.74 619.7) scale(1 1.035)" word-spacing="0.5" xml:space="preserve">P = 0.94</text>
<g fill="#000">
<circle cx="1422.1" cy="637.7" r="6.6"/><circle cx="1388.4" cy="680.3" r="6.6"/><circle cx="1434.1" cy="699.1" r="6.6"/><circle cx="1364.2" cy="705.5" r="6.6"/><circle cx="1383.5" cy="724" r="6.6"/><circle cx="1541.2" cy="727" r="6.6"/><circle cx="1504" cy="734.8" r="6.6"/><circle cx="1371.4" cy="750.9" r="6.6"/><circle cx="1447.1" cy="750" r="6.6"/><circle cx="1566.6" cy="750.3" r="6.6"/><circle cx="1350.8" cy="754.4" r="6.6"/><circle cx="1417.2" cy="754" r="6.6"/><circle cx="1465.4" cy="757" r="6.6"/><circle cx="1530.5" cy="754.3" r="6.6"/><circle cx="1449.6" cy="757" r="6.6"/><circle cx="1508.7" cy="762" r="6.6"/><circle cx="1559.5" cy="763.2" r="6.6"/><circle cx="1355.5" cy="767.4" r="6.6"/><circle cx="1413.4" cy="761.7" r="6.6"/><circle cx="1445.9" cy="762.7" r="6.6"/><circle cx="1482.4" cy="765.2" r="6.6"/><circle cx="1410" cy="775.1" r="6.6"/><circle cx="1540.5" cy="776" r="6.6"/><circle cx="1407.5" cy="787.5" r="6.6"/><circle cx="1407.5" cy="792.6" r="6.6"/><circle cx="1524.5" cy="788.4" r="6.6"/><circle cx="1516" cy="794.6" r="6.6"/><circle cx="1513.6" cy="799.9" r="6.6"/><circle cx="1355.5" cy="798.2" r="6.6"/><circle cx="1393" cy="799.6" r="6.6"/><circle cx="1391.1" cy="805" r="6.6"/><circle cx="1407.5" cy="804.6" r="6.6"/><circle cx="1423" cy="797.1" r="6.6"/><circle cx="1466.4" cy="799" r="6.6"/><circle cx="1481.1" cy="796.5" r="6.6"/><circle cx="1483.6" cy="797.6" r="6.6"/><circle cx="1494.3" cy="806.9" r="6.6"/><circle cx="1361.7" cy="812" r="6.6"/><circle cx="1380.9" cy="810.8" r="6.6"/><circle cx="1375.6" cy="815.1" r="6.6"/><circle cx="1388" cy="822.2" r="6.6"/><circle cx="1384.6" cy="834.9" r="6.6"/><circle cx="1420.7" cy="814.8" r="6.6"/><circle cx="1448.4" cy="808" r="6.6"/><circle cx="1442.4" cy="816.5" r="6.6"/><circle cx="1449.5" cy="825.6" r="6.6"/><circle cx="1452" cy="840.5" r="6.6"/><circle cx="1403.8" cy="831.8" r="6.6"/><circle cx="1415.1" cy="828.1" r="6.6"/><circle cx="1422.4" cy="826.4" r="6.6"/><circle cx="1424.1" cy="833.8" r="6.6"/><circle cx="1431.6" cy="835.8" r="6.6"/><circle cx="1499.1" cy="830.9" r="6.6"/><circle cx="1529.1" cy="829.7" r="6.6"/><circle cx="1537.7" cy="831.1" r="6.6"/><circle cx="1587" cy="704.2" r="6.6"/><circle cx="1678.5" cy="762.2" r="6.6"/><circle cx="1569.1" cy="776" r="6.6"/><circle cx="1569.1" cy="785.5" r="6.6"/><circle cx="1602.7" cy="787.9" r="6.6"/><circle cx="1547" cy="807.1" r="6.6"/><circle cx="1565.4" cy="812" r="6.6"/><circle cx="1576.4" cy="821.8" r="6.6"/><circle cx="1576.4" cy="823.8" r="6.6"/><circle cx="1615.8" cy="829.6" r="6.6"/>
</g>
<path class="ln" d="M1350.9 786.5L1678.8 786.2"/>
<path class="ci" d="M1350.9 768.5L1356.3 769.1L1361.8 769.7L1367.2 770.2L1372.7 770.8L1378.1 771.3L1383.5 771.8L1389 772.3L1394.4 772.8L1399.8 773.2L1405.3 773.7L1410.7 774.1L1416.2 774.4L1421.6 774.8L1427 775.1L1432.5 775.3L1437.9 775.6L1443.4 775.7L1448.8 775.9L1454.2 776L1459.7 776L1465.1 776L1470.5 775.9L1476 775.8L1481.4 775.6L1486.9 775.4L1492.3 775.2L1497.7 774.9L1503.2 774.6L1508.6 774.2L1514.1 773.8L1519.5 773.4L1524.9 772.9L1530.4 772.4L1535.8 771.9L1541.2 771.4L1546.7 770.9L1552.1 770.4L1557.6 769.8L1563 769.2L1568.4 768.6L1573.9 768L1579.3 767.4L1584.7 766.8L1590.2 766.2L1595.6 765.6L1601.1 764.9L1606.5 764.3L1611.9 763.6L1617.4 763L1622.8 762.3L1628.3 761.7L1633.7 761L1639.1 760.4L1644.6 759.7L1650 759L1655.4 758.3L1660.9 757.7L1666.3 757L1671.8 756.3L1677.2 755.6"/>
<path class="ci" d="M1350.9 804.5L1356.3 803.9L1361.8 803.3L1367.2 802.8L1372.7 802.2L1378.1 801.7L1383.5 801.1L1389 800.6L1394.4 800.1L1399.8 799.7L1405.3 799.2L1410.7 798.8L1416.2 798.4L1421.6 798.1L1427 797.8L1432.5 797.5L1437.9 797.3L1443.4 797.1L1448.8 796.9L1454.2 796.8L1459.7 796.8L1465.1 796.8L1470.5 796.9L1476 797L1481.4 797.1L1486.9 797.3L1492.3 797.6L1497.7 797.8L1503.2 798.2L1508.6 798.5L1514.1 798.9L1519.5 799.3L1524.9 799.8L1530.4 800.2L1535.8 800.7L1541.2 801.2L1546.7 801.7L1552.1 802.3L1557.6 802.8L1563 803.4L1568.4 804L1573.9 804.6L1579.3 805.2L1584.7 805.8L1590.2 806.4L1595.6 807L1601.1 807.6L1606.5 808.2L1611.9 808.9L1617.4 809.5L1622.8 810.2L1628.3 810.8L1633.7 811.5L1639.1 812.1L1644.6 812.8L1650 813.4L1655.4 814.1L1660.9 814.8L1666.3 815.4L1671.8 816.1L1677.2 816.8"/>
</g>
</svg></body></html>
